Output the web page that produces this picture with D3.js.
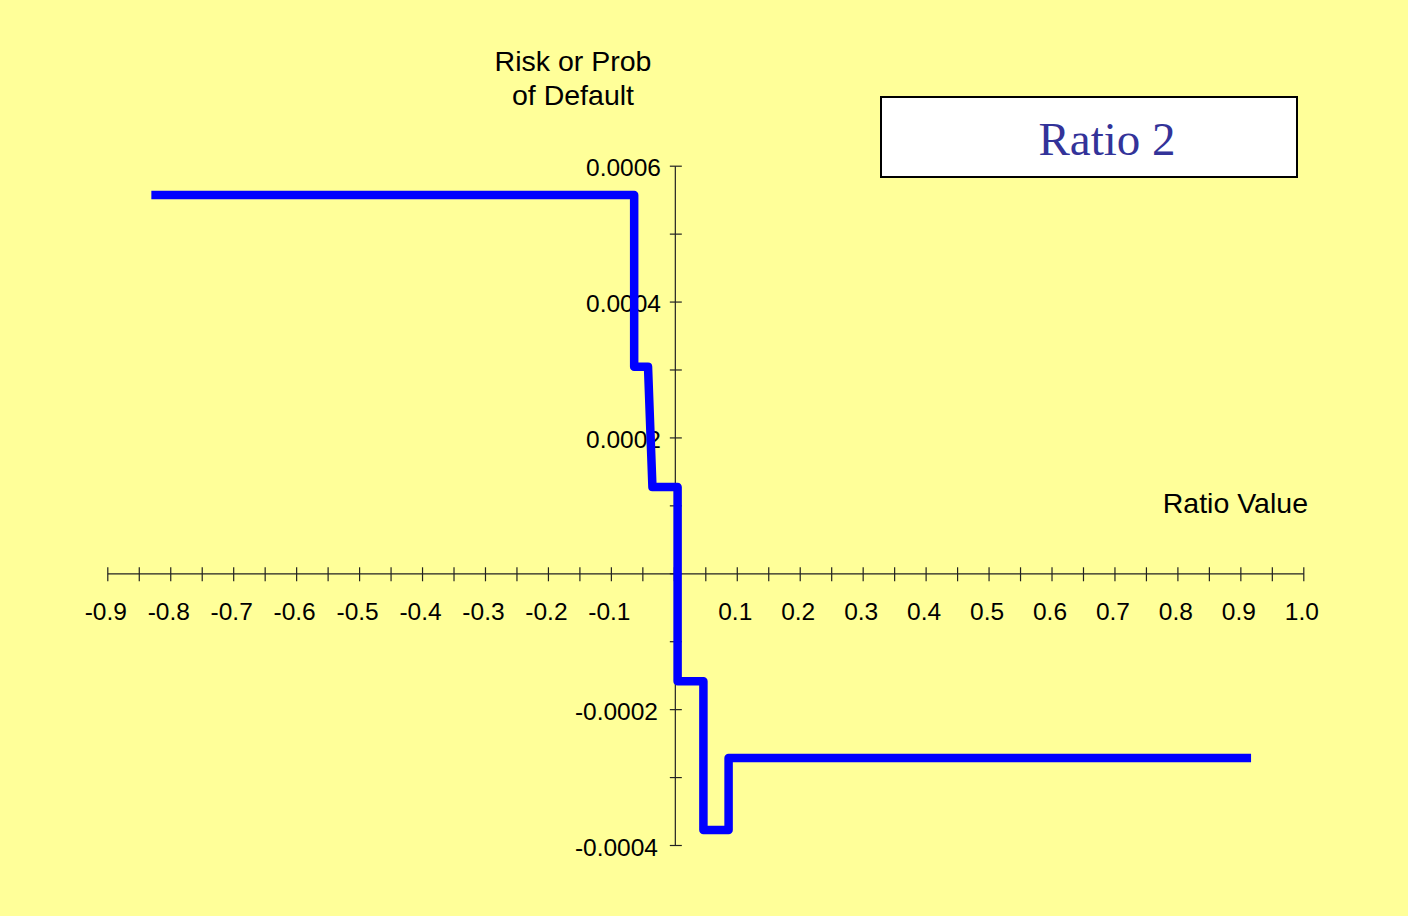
<!DOCTYPE html>
<html>
<head>
<meta charset="utf-8">
<script src="https://cdn.jsdelivr.net/npm/d3@7"></script>
<style>
  html, body { margin: 0; padding: 0; background: #FFFF99; }
  svg { display: block; }
  text { font-family: "Liberation Sans", Arial, sans-serif; fill: #000; }
</style>
</head>
<body>
<svg id="chart" width="1408" height="916"></svg>
<script>
// Step curve of default risk against the ratio value
const ratioX = [-0.83, -0.063, -0.063, -0.041, -0.034, 0.006, 0.006, 0.047, 0.047, 0.087, 0.087, 0.917];
const riskY  = [0.000557, 0.000557, 0.000304, 0.000304, 0.000127, 0.000127, -0.000159, -0.000159, -0.000378, -0.000378, -0.000272, -0.000272];

// Axis ticks and their labels
const xMajor = [-0.9, -0.8, -0.7, -0.6, -0.5, -0.4, -0.3, -0.2, -0.1, 0.1, 0.2, 0.3, 0.4, 0.5, 0.6, 0.7, 0.8, 0.9, 1.0];
const xMajorLabels = ["-0.9", "-0.8", "-0.7", "-0.6", "-0.5", "-0.4", "-0.3", "-0.2", "-0.1", "0.1", "0.2", "0.3", "0.4", "0.5", "0.6", "0.7", "0.8", "0.9", "1.0"];
const yMajor = [0.0006, 0.0004, 0.0002, -0.0002, -0.0004];
const yMajorLabels = ["0.0006", "0.0004", "0.0002", "-0.0002", "-0.0004"];

const svg = d3.select("#chart");

const x = d3.scaleLinear().domain([-0.9, 1.0]).range([107.3, 1303.3]);
const y = d3.scaleLinear().domain([-0.0004, 0.0006]).range([845, 165.7]);

const x0 = x(0), y0 = y(0);

// Horizontal axis through y = 0, ticks every 0.05 crossing the line
const xAxis = d3.axisBottom(x)
  .tickValues(d3.range(-18, 21).map(i => i * 0.05))
  .tickSize(0)
  .tickFormat("");
const gx = svg.append("g").attr("transform", `translate(0,${y0})`).call(xAxis);
gx.select(".domain").attr("stroke", "#222").attr("stroke-width", 1.2);
gx.selectAll(".tick line").attr("y1", -6).attr("y2", 8).attr("stroke", "#222").attr("stroke-width", 1.2);

svg.append("g").selectAll("text")
  .data(xMajor)
  .join("text")
  .attr("x", (d) => x(d) - 1.5)
  .attr("y", 619.5)
  .attr("text-anchor", "middle")
  .style("font-size", "24.5px")
  .text((d, i) => xMajorLabels[i]);

// Vertical axis through x = 0, ticks every 0.0001 crossing the line
const yAxis = d3.axisLeft(y)
  .tickValues(d3.range(-4, 7).map(i => i * 0.0001))
  .tickSize(0)
  .tickFormat("");
const gy = svg.append("g").attr("transform", `translate(${x0 + 1},0)`).call(yAxis);
gy.select(".domain").attr("stroke", "#222").attr("stroke-width", 1.2);
gy.selectAll(".tick line").attr("x1", -5).attr("x2", 7).attr("stroke", "#222").attr("stroke-width", 1.2);

svg.append("g").selectAll("text")
  .data(yMajor)
  .join("text")
  .attr("x", (d) => d > 0 ? 661 : 658)
  .attr("y", (d) => y(d) + 10.5)
  .attr("text-anchor", "end")
  .style("font-size", "24.5px")
  .text((d, i) => yMajorLabels[i]);

// Risk curve
const line = d3.line()
  .x((d) => x(d[0]))
  .y((d) => y(d[1]));
svg.append("path")
  .datum(ratioX.map((v, i) => [v, riskY[i]]))
  .attr("d", line)
  .attr("fill", "none")
  .attr("stroke", "#0000FF")
  .attr("stroke-width", 8.5)
  .attr("stroke-linejoin", "round");

// Axis titles
const yTitle = svg.append("text")
  .attr("text-anchor", "middle")
  .style("font-size", "28.5px");
yTitle.append("tspan").attr("x", 573).attr("y", 71).text("Risk or Prob");
yTitle.append("tspan").attr("x", 573).attr("y", 105).text("of Default");

svg.append("text")
  .attr("x", 1308)
  .attr("y", 512.5)
  .attr("text-anchor", "end")
  .style("font-size", "28.5px")
  .text("Ratio Value");

// Title box
svg.append("rect")
  .attr("x", 881)
  .attr("y", 97)
  .attr("width", 416)
  .attr("height", 80)
  .attr("fill", "#FFFFFF")
  .attr("stroke", "#000")
  .attr("stroke-width", 2);
svg.append("text")
  .attr("x", 1107)
  .attr("y", 155)
  .attr("text-anchor", "middle")
  .style("font-family", "'Liberation Serif', 'Times New Roman', serif")
  .style("font-size", "47px")
  .style("fill", "#333399")
  .text("Ratio 2");
</script>
</body>
</html>
